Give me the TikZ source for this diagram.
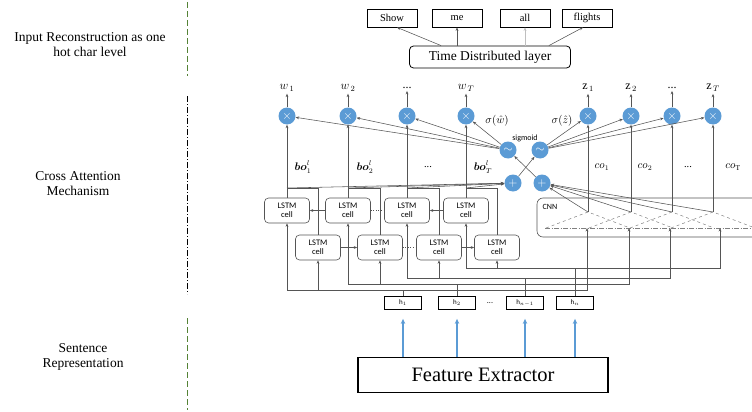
\documentclass[tikz,border=0pt]{standalone}
\usepackage{amsmath}
\usepackage{fontspec}
\setmainfont{Liberation Serif}
\setsansfont{Carlito}
\usetikzlibrary{arrows.meta}
\definecolor{opblue}{RGB}{91,155,213}
\definecolor{wiregray}{RGB}{85,85,85}
\definecolor{sepgreen}{RGB}{84,130,53}

\begin{document}
\begin{tikzpicture}[x=1pt,y=-1pt,>={Stealth[length=3.5pt,width=2.8pt]},
  side/.style={align=center,font=\fontsize{13.5}{15}\selectfont},
  word/.style={draw,line width=0.8pt,minimum width=50pt,minimum height=18pt,inner sep=1pt,font=\fontsize{10.5}{11}\selectfont},
  layer/.style={draw,line width=0.8pt,rounded corners=4pt,minimum width=161pt,minimum height=22pt,font=\fontsize{13.5}{14}\selectfont},
  op/.style={circle,fill=opblue,text=white,minimum size=17pt,inner sep=0pt,font=\bfseries\fontsize{12}{12}\selectfont},
  outlbl/.style={font=\fontsize{12}{12}\selectfont,inner sep=2pt},
  vec/.style={font=\fontsize{10.5}{11}\selectfont},
  cell/.style={draw=wiregray,line width=0.6pt,rounded corners=4pt,minimum width=45pt,minimum height=25pt,inner sep=0pt,align=center,font=\sffamily\fontsize{8.5}{9.5}\selectfont},
  hbox/.style={draw,line width=0.8pt,minimum width=37pt,minimum height=13pt,inner sep=0pt,font=\sffamily\fontsize{7}{8}\selectfont},
  feat/.style={draw,line width=1.4pt,minimum width=250pt,minimum height=35pt,font=\fontsize{20.5}{22}\selectfont},
  link/.style={draw=wiregray,line width=0.55pt},
  tag/.style={font=\sffamily\fontsize{8}{9}\selectfont,inner sep=1pt},
  feed/.style={draw=opblue,line width=1.2pt,-{Stealth[length=5pt,width=4.5pt]}}]
\useasboundingbox (0,0) rectangle (752,412);
\clip (0,0) rectangle (752,412);

% stage names and separators
\node [side] (T1) at (90,45) {Input Reconstruction as one\\hot char level};
\node [side] (T2) at (78,184) {Cross Attention\\Mechanism};
\node [side] (T3) at (83,357) {Sentence\\Representation};

\draw [sepgreen, line width=1pt, dash pattern=on 6pt off 3pt] (187,2) -- (187,76);
\draw [line width=1pt, dash pattern=on 6pt off 2pt on 1pt off 2pt] (187,96) -- (187,294);
\draw [sepgreen, line width=1pt, dash pattern=on 6pt off 3pt] (187,318) -- (187,410);

% output words
\node [word] (S1) at (392,18) {Show};
\node [word] (S2) at (457,18) {me};
\node [word] (S3) at (525,18) {all};
\node [word] (S4) at (587,18) {flights};

\node [layer] (TD) at (490,57) {Time Distributed layer};

\draw [link,->] ([xshift=32pt]TD.north west) -- ([xshift=5pt]S1.south);
\draw [link,->] (TD.north -| S2) -- (S2.south);
\draw [draw=gray!50,line width=0.55pt,->] (TD.north -| S3) -- (S3.south);
\draw [link,->] ([xshift=-22pt]TD.north east) -- ([xshift=-4pt]S4.south);

% attention weights
\node [op] (MW1) at (287,116) {$\times$};
\node [op] (MW2) at (348,116) {$\times$};
\node [op] (MW3) at (407,116) {$\times$};
\node [op] (MW4) at (466,116) {$\times$};

\node [op] (MZ1) at (588,116) {$\times$};
\node [op] (MZ2) at (631,116) {$\times$};
\node [op] (MZ3) at (672,116) {$\times$};
\node [op] (MZ4) at (713,116) {$\times$};

\node [outlbl] (LW1) at (287,88) {$w_{\,1}$};
\node [outlbl] (LW2) at (348,88) {$w_{\,2}$};
\node [outlbl] (LW3) at (407,88) {...};
\node [outlbl] (LW4) at (466,88) {$w_{\,T}$};

\node [outlbl] (LZ1) at (588,88) {$\mathrm{z}_{\,1}$};
\node [outlbl] (LZ2) at (631,88) {$\mathrm{z}_{\,2}$};
\node [outlbl] (LZ3) at (672,88) {...};
\node [outlbl] (LZ4) at (713,88) {$\mathrm{z}_{\,T}$};

\node [op] (G1) at (508,150) {$\sim$};
\node [op] (G2) at (540,150) {$\sim$};
\node [op] (P1) at (513,183) {$+$};
\node [op] (P2) at (542,183) {$+$};

\node [tag] (SG) at (525,138) {sigmoid};
\node [vec,inner sep=0pt] (SW) at (497,121) {$\sigma(\hat{w})$};
\node [vec,inner sep=0pt] (SZ) at (562,121) {$\sigma(\hat{z})$};

\node [vec] (BO1) at (303,167) {$\boldsymbol{bo}_1^l$};
\node [vec] (BO2) at (365,167) {$\boldsymbol{bo}_2^l$};
\node [vec] (BO3) at (428,167) {...};
\node [vec] (BO4) at (483,167) {$\boldsymbol{bo}_T^l$};

\node [vec] (CO1) at (602,167) {$co_1$};
\node [vec] (CO2) at (645,167) {$co_2$};
\node [vec] (CO3) at (688,167) {...};
\node [vec] (CO4) at (733,167) {$co_{\mathrm{T}}$};

% bidirectional LSTM
\node [cell] (U1) at (287,210.5) {LSTM\\cell};
\node [cell] (U2) at (348,210.5) {LSTM\\cell};
\node [cell] (U3) at (407,210.5) {LSTM\\cell};
\node [cell] (U4) at (466,210.5) {LSTM\\cell};

\node [cell] (D1) at (318,247.5) {LSTM\\cell};
\node [cell] (D2) at (380,247.5) {LSTM\\cell};
\node [cell] (D3) at (439,247.5) {LSTM\\cell};
\node [cell] (D4) at (497,247.5) {LSTM\\cell};

\coordinate (B1) at (287,188);
\coordinate (B2) at (348,188);
\coordinate (B3) at (407,188);
\coordinate (B4) at (466,188);

% CNN
\node [draw=wiregray,line width=0.6pt,rounded corners=6pt,minimum width=250pt,minimum height=39pt] (CNN) at (662,217.5) {};
\node [tag] (CL) at (550,207) {CNN};

\coordinate (A1) at (588,212);
\coordinate (A2) at (631,212);
\coordinate (A3) at (672,212);
\coordinate (A4) at (713,212);

\foreach \x in {588,631,672,713}
    \draw [gray, line width=0.5pt, dashed] (\x-42,228) -- (\x,212) -- (\x+42,228);
\draw [gray, line width=0.6pt, dash pattern=on 5pt off 1.5pt on 1pt off 1.5pt] (545,228) -- (752,228);

\coordinate (K1) at (587,228);
\coordinate (K2) at (629,228);
\coordinate (K3) at (670,228);
\coordinate (K4) at (720,228);

% sentence representation
\node [hbox] (H1) at (403,303) {h$_1$};
\node [hbox] (H2) at (457,303) {h$_2$};
\node [tag] (HD) at (490,303) {...};
\node [hbox] (H3) at (525,303) {h$_{n-1}$};
\node [hbox] (H4) at (575,303) {h$_n$};

\coordinate (J1) at (403,290);
\coordinate (J2) at (457,284);
\coordinate (J3) at (525,278);
\coordinate (J4) at (575,268);

\node [feat] (FE) at (483,375) {Feature Extractor};

\foreach \s/\t in {MW1/LW1,
                   MW2/LW2,
                   MW3/LW3,
                   MW4/LW4,
                   MZ1/LZ1,
                   MZ2/LZ2,
                   MZ3/LZ3,
                   MZ4/LZ4,
                   G1/MW1,
                   G1/MW2,
                   G1/MW3,
                   G1/MW4,
                   G2/MZ1,
                   G2/MZ2,
                   G2/MZ3,
                   G2/MZ4,
                   P1/G2,
                   P2/G1,
                   U1.north/MW1,
                   U2.north/MW2,
                   U3.north/MW3,
                   U4.north/MW4,
                   A1/MZ1,
                   A2/MZ2,
                   A3/MZ3,
                   A4/MZ4,
                   B1/P1,
                   B2/P1,
                   B3/P1,
                   B4/P1,
                   A1/P2,
                   A2/P2,
                   A3/P2,
                   A4/P2,
                   U2/U1,
                   U4/U3,
                   D1/D2,
                   D3/D4}
    \draw [link,->] (\s) -- (\t);

\draw [link, dotted] (U2) -- (U3);
\draw [link, dotted] (D2) -- (D3);

\foreach \s/\t in {D1/B1,
                   D2/B2,
                   D3/B3,
                   D4/B4}
    \draw [link] (\s.north) |- (\t);

\foreach \s/\t in {H1/J1,
                   H2/J2,
                   H3/J3,
                   H4/J4}
    \draw [link] (\s.north) -- (\t);

\foreach \s/\t in {J1/U1.south,
                   J1/D1.south,
                   J1/K1,
                   J2/U2.south,
                   J2/D2.south,
                   J2/K2,
                   J3/U3.south,
                   J3/D3.south,
                   J3/K3,
                   J4/U4.south,
                   J4/D4.south,
                   J4/K4}
    \draw [link,->] (\s) -| (\t);

\foreach \t in {H1,H2,H3,H4}
    \draw [feed] (FE.north -| \t) -- ([yshift=-9pt]\t.south);

\end{tikzpicture}
\end{document}
